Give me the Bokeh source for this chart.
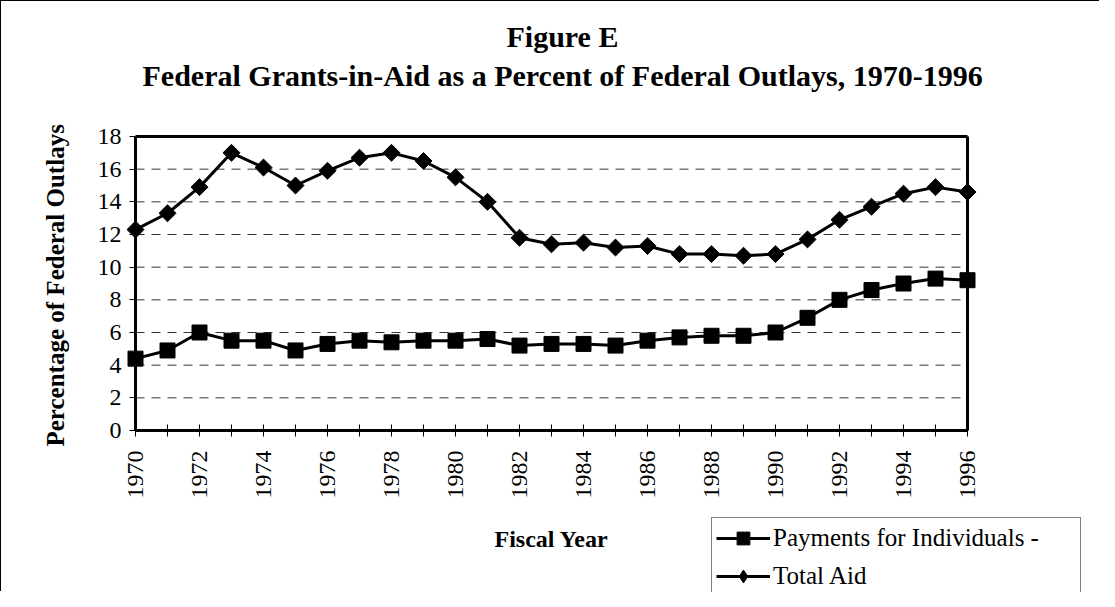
import numpy as np
from bokeh.plotting import figure
from bokeh.models import Range1d, FixedTicker, Title, Legend, LegendItem, LinearAxis
from bokeh.embed import file_html
from bokeh.resources import INLINE

years = list(range(1970, 1997))
payments_for_individuals = [4.4, 4.9, 6.0, 5.5, 5.5, 4.9, 5.3, 5.5, 5.4, 5.5, 5.5, 5.6, 5.2, 5.3,
                            5.3, 5.2, 5.5, 5.7, 5.8, 5.8, 6.0, 6.9, 8.0, 8.6, 9.0, 9.3, 9.2]
total_aid = [12.3, 13.3, 14.9, 17.0, 16.1, 15.0, 15.9, 16.7, 17.0, 16.5, 15.5, 14.0, 11.8, 11.4,
             11.5, 11.2, 11.3, 10.8, 10.8, 10.7, 10.8, 11.7, 12.9, 13.7, 14.5, 14.9, 14.6]
y_ticks = [0, 2, 4, 6, 8, 10, 12, 14, 16, 18]
x_tick_labels = {y: (str(y) if (y - 1970) % 2 == 0 else "") for y in years}

FONT = "Liberation Serif"

# layout in figure pixels: plot box x 134..966, y 135 (value 18) .. 429 (value 0)
W, H = 1099, 591
FRAME_LEFT, FRAME_TOP = 87, 115
BOX_LEFT, BOX_RIGHT, BOX_TOP, ZERO_PX = 134, 966, 135, 429
X_MIN, X_MAX = years[0], years[-1]
Y_MIN, Y_MAX = y_ticks[0], y_ticks[-1]
px_per_year = (BOX_RIGHT - BOX_LEFT) / (X_MAX - X_MIN)
px_per_unit = (ZERO_PX - BOX_TOP) / (Y_MAX - Y_MIN)
x_start = X_MIN - (BOX_LEFT - FRAME_LEFT) / px_per_year
x_end = X_MAX + (W - BOX_RIGHT) / px_per_year
y_low = Y_MIN - (H - ZERO_PX) / px_per_unit
y_high = Y_MAX + (BOX_TOP - FRAME_TOP) / px_per_unit

p = figure(width=W, height=H, output_backend="svg", toolbar_location=None,
           x_range=Range1d(x_start, x_end), y_range=Range1d(y_low, y_high),
           min_border_left=FRAME_LEFT, min_border_right=0, min_border_top=FRAME_TOP,
           min_border_bottom=0)
p.styles = {"border-left": "1px solid black", "border-top": "1px solid black"}

p.outline_line_color = None
p.background_fill_color = "white"
p.border_fill_color = "white"

# titles: spacer (closest to frame), second line, first line
p.add_layout(Title(text=".", text_color="white", text_font_size="10px", standoff=16,
                   text_font=FONT), "above")
p.add_layout(Title(text="Federal Grants-in-Aid as a Percent of Federal Outlays, 1970-1996",
                   align="left", offset=54, standoff=0, text_font=FONT, text_font_size="30px",
                   text_font_style="bold", text_color="black"), "above")
p.add_layout(Title(text="Figure E", align="left", offset=418, standoff=8, text_font=FONT,
                   text_font_size="30px", text_font_style="bold", text_color="black"), "above")

# y axis label as a left-side title
p.add_layout(Title(text="Percentage of Federal Outlays", align="left", offset=146, standoff=40,
                   text_font=FONT, text_font_size="25px", text_font_style="bold",
                   text_color="black"), "left")

# x axis at value 0
p.xaxis.fixed_location = Y_MIN
p.xaxis.bounds = (X_MIN, X_MAX)
p.xaxis.ticker = FixedTicker(ticks=years)
p.xaxis.major_label_overrides = x_tick_labels
p.xaxis.major_label_orientation = np.pi / 2
p.xaxis.minor_tick_line_color = None
p.xaxis.major_tick_in = 6
p.xaxis.major_tick_out = 6
p.xaxis.major_label_standoff = 14
p.xaxis.axis_label = "Fiscal Year"
p.xaxis.axis_label_standoff = 24
p.xaxis.axis_label_text_font_size = "24px"

# y axis at the first year
p.yaxis.fixed_location = X_MIN
p.yaxis.ticker = FixedTicker(ticks=y_ticks)
p.yaxis.bounds = (Y_MIN, Y_MAX)
p.yaxis.minor_tick_line_color = None
p.yaxis.major_tick_in = 0
p.yaxis.major_tick_out = 6
p.yaxis.major_label_standoff = 8

for ax in (p.xaxis, p.yaxis):
    ax.axis_line_width = 3
    ax.axis_line_color = "black"
    ax.major_tick_line_color = "black"
    ax.major_tick_line_width = 1
    ax.major_label_text_font = FONT
    ax.major_label_text_font_size = "24px"
    ax.major_label_text_color = "black"
    ax.axis_label_text_font = FONT
    ax.axis_label_text_font_style = "bold"
    ax.axis_label_text_color = "black"

# top and right edges of the plot box
top_edge = LinearAxis(fixed_location=Y_MAX, bounds=(X_MIN, X_MAX), ticker=FixedTicker(ticks=[]),
                      axis_line_width=3, axis_line_color="black", major_tick_line_color=None,
                      minor_tick_line_color=None, major_label_text_color=None)
right_edge = LinearAxis(fixed_location=X_MAX, bounds=(Y_MIN, Y_MAX), ticker=FixedTicker(ticks=[]),
                        axis_line_width=3, axis_line_color="black", major_tick_line_color=None,
                        minor_tick_line_color=None, major_label_text_color=None)
p.add_layout(top_edge, "above")
p.add_layout(right_edge, "right")

# dashed horizontal gridlines, limited to the plot box
p.xgrid.grid_line_color = None
p.ygrid.grid_line_color = None
p.segment(x0=[X_MIN] * len(y_ticks), x1=[X_MAX] * len(y_ticks), y0=y_ticks, y1=y_ticks,
          line_color="black", line_width=1, line_dash="9 7", line_alpha=0.8)

# series
l1 = p.line(years, payments_for_individuals, line_color="black", line_width=3)
s1 = p.scatter(years, payments_for_individuals, marker="square", size=15,
               fill_color="black", line_color="black")
l2 = p.line(years, total_aid, line_color="black", line_width=3)
s2 = p.scatter(years, total_aid, marker="square", angle=np.pi / 4, size=12,
               fill_color="black", line_color="black")
s2_key = p.scatter(years, total_aid, marker="diamond", size=0,
                   fill_color="black", line_color="black")

# legend: top-left corner at page (718, 528), bottom runs off the canvas as in the original
legend = Legend(items=[LegendItem(label="Payments for Individuals -", renderers=[l1, s1]),
                       LegendItem(label="Total Aid", renderers=[l2, s2_key])],
                location=(718 - 8 - FRAME_LEFT, -5), orientation="vertical",
                glyph_width=54, glyph_height=32, label_height=32, label_width=303,
                label_standoff=3, spacing=6, padding=4, margin=0,
                label_text_font="serif", label_text_font_size="25px", label_text_color="black",
                border_line_color="black", border_line_width=1,
                background_fill_color="white", background_fill_alpha=1.0)
p.add_layout(legend, "center")

open("out.html", "w").write(file_html(p, INLINE))
